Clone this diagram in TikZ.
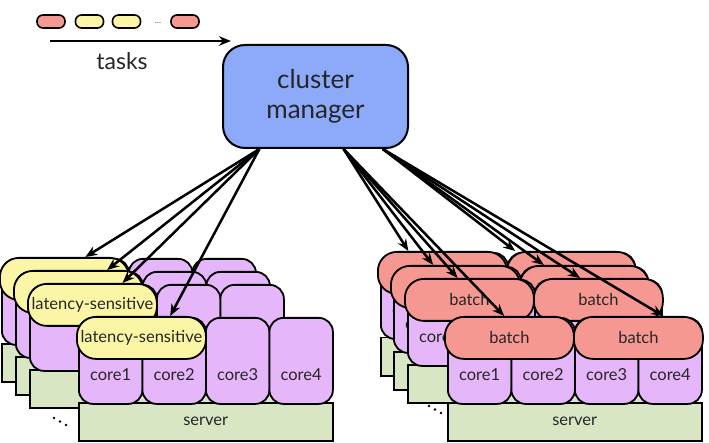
\documentclass[tikz,border=0pt]{standalone}
\usepackage{fontspec}
\setmainfont{Lato}
\usetikzlibrary{arrows.meta,calc}

\definecolor{mgrblue}{RGB}{141,170,250}
\definecolor{lsyellow}{RGB}{250,246,165}
\definecolor{corepink}{RGB}{230,182,250}
\definecolor{batchred}{RGB}{245,152,145}
\definecolor{srvgreen}{RGB}{216,230,196}

\begin{document}
\begin{tikzpicture}[x=1pt,y=-1pt,
    txt/.style={text=black!85, font=\fontsize{16.5}{17}\selectfont},
    server/.style={draw, line width=1.5pt, fill=srvgreen, minimum width=254pt,
      minimum height=38pt, inner sep=0pt, anchor=north west, txt},
    core/.style={draw, line width=1.8pt, fill=corepink, rounded corners=14pt,
      minimum width=63.5pt, minimum height=86pt, inner sep=0pt, anchor=north west},
    job/.style={draw, line width=1.8pt, rounded corners=19pt, minimum width=129pt,
      minimum height=42pt, inner sep=0pt, anchor=north west, txt},
    lsjob/.style={job, fill=lsyellow},
    batchjob/.style={job, fill=batchred},
    pill/.style={draw, line width=1.6pt, rounded corners=6pt, minimum width=28pt,
      minimum height=13pt, inner sep=0pt},
    assign/.style={-{Stealth[length=12pt,width=9.5pt]}, line width=2.5pt},
    % \lvl: 0 = no labels, 1 = first core only, 2 = all labels
    pics/machine/.style={code={
      \node[server] (-srv) at (0,85) {\ifnum\lvl=2 server\fi};
      \foreach \k in {1,...,4}{
        \node[core] (-c\k) at ({63.5*(\k-1)},0) {};
        \ifnum\lvl=2 \node[txt] (-t\k) at ([yshift=30pt]-c\k.south) {core\k};\fi
      }
      \ifnum\lvl=1 \node[txt] (-t1) at ([yshift=30pt]-c1.south) {core1};\fi
    }}]
\useasboundingbox (0,0) rectangle (709,443);

% incoming tasks
\node[pill, fill=batchred] (p1) at (51,21.5) {};
\node[pill, fill=lsyellow] (p2) at (89.5,21.5) {};
\node[pill, fill=lsyellow] (p3) at (126.5,21.5) {};
\node[text=black!60, font=\fontsize{9}{9}\selectfont] (pdots) at (158,23) {...};
\node[pill, fill=batchred] (p4) at (185,21.5) {};
\coordinate (tin) at (50,41);
\coordinate (tout) at (231,41);
\draw[line width=2.2pt, -{Stealth[length=12pt,width=9.5pt]}] (tin) -- (tout);
\node[text=black!85, font=\fontsize{23}{23}\selectfont] (tasks) at (122,61) {tasks};

\node[draw, line width=2pt, fill=mgrblue, rounded corners=22pt, minimum width=185pt,
  minimum height=103pt, align=center, text=black!85,
  font=\fontsize{26}{30}\selectfont] (cm) at (315.5,96.5) {cluster\\manager};

% latency-sensitive servers
\foreach \i/\x/\y/\lvl in {1/1/258/0, 2/15/271/0, 3/29/284/0, 4/78/317/2}{
  \pic (L\i) at (\x,\y) {machine};
  \node[lsjob] (L\i-ls) at ([shift={(-2,-1)}]L\i-c1.north west)
    {\ifnum\i>2 latency-sensitive\fi};
}
\fill (54,418) circle (1.3pt) (60,421.5) circle (1.3pt) (66,425) circle (1.3pt);

% batch servers
\foreach \i/\x/\y/\lvl in {1/380/252/1, 2/393/266/1, 3/407/279/1, 4/447/317/2}{
  \pic (R\i) at (\x,\y) {machine};
  \node[batchjob] (R\i-b1) at ([shift={(-3,-1)}]R\i-c1.north west) {\ifnum\i>2 batch\fi};
  \node[batchjob] (R\i-b2) at ([shift={(-1,-1)}]R\i-c3.north west) {\ifnum\i>2 batch\fi};
}
\fill (429,406) circle (1.3pt) (435,409.5) circle (1.3pt) (441,413) circle (1.3pt);

% placements
\coordinate (srcL) at ($(cm.south west)!0.2!(cm.south east)$);
\coordinate (srcA) at ($(cm.south west)!0.65!(cm.south east)$);
\coordinate (srcB) at ($(cm.south west)!0.86!(cm.south east)$);
\foreach \i/\f in {1/0.66, 2/0.72, 3/0.73, 4/0.72}
  \draw[assign] (srcL) -- ($(L\i-ls.north west)!\f!(L\i-ls.north east)$);
\foreach \i/\f in {1/0.24, 2/0.33, 3/0.41, 4/0.46}
  \draw[assign] (srcA) -- ($(R\i-b1.north west)!\f!(R\i-b1.north east)$);
\foreach \i/\f in {1/0.07, 2/0.19, 3/0.36, 4/0.69}
  \draw[assign] (srcB) -- ($(R\i-b2.north west)!\f!(R\i-b2.north east)$);
\end{tikzpicture}
\end{document}
